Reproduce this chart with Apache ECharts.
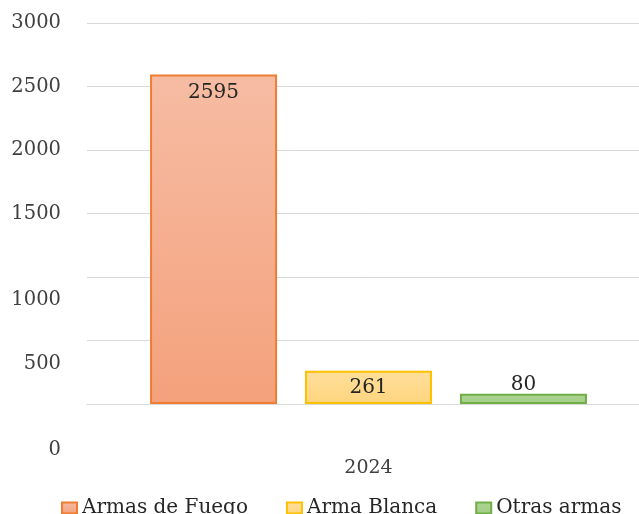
<!DOCTYPE html>
<html>
<head>
<meta charset="utf-8">
<script src="https://cdn.jsdelivr.net/npm/echarts@6/dist/echarts.min.js"></script>
<style>
html,body{margin:0;padding:0;background:#fff;}
#chart{width:639px;height:514px;}
</style>
</head>
<body>
<div id="chart"></div>
<script>
const categories = ['2024'];
const seriesNames = ['Armas de Fuego', 'Arma Blanca', 'Otras armas'];
const fuegoValues = [2595];
const blancaValues = [261];
const otrasValues = [80];
const yTicks = [0, 500, 1000, 1500, 2000, 2500, 3000];

const FONT = '"DejaVu Serif", "Liberation Serif", serif';
const chart = echarts.init(document.getElementById('chart'), null, {renderer: 'canvas'});

function grad(top, bottom) {
  return new echarts.graphic.LinearGradient(0, 0, 0, 1, [
    {offset: 0, color: top}, {offset: 1, color: bottom}
  ]);
}

const labelBase = {show: true, fontFamily: FONT, fontSize: 20, color: '#262626'};
const yMin = yTicks[0], yMax = yTicks[yTicks.length - 1], yStep = yTicks[1] - yTicks[0];

function yAxisDef(formatter, extra) {
  return Object.assign({
    type: 'value', position: 'left',
    min: yMin, max: yMax, interval: yStep,
    axisLine: {show: false},
    axisTick: {show: false},
    splitLine: {show: false},
    axisLabel: {
      fontFamily: FONT, fontSize: 19.5, color: '#404040', margin: 26, lineHeight: 23,
      formatter: formatter
    }
  }, extra || {});
}

chart.setOption({
  animation: false,
  backgroundColor: '#ffffff',
  grid: {left: 87, width: 563, top: 23, bottom: 110, outerBoundsMode: 'none'},
  legend: {
    bottom: -9,
    left: 56,
    itemWidth: 15,
    itemHeight: 11,
    itemGap: 38,
    icon: 'rect',
    textStyle: {fontFamily: FONT, fontSize: 20, color: '#262626'},
    data: seriesNames
  },
  xAxis: {
    type: 'category',
    data: categories,
    axisLine: {show: true, lineStyle: {color: '#d9d9d9', width: 1}},
    axisTick: {show: false},
    axisLabel: {fontFamily: FONT, fontSize: 19, color: '#404040', margin: 55}
  },
  yAxis: [
    yAxisDef(function (v) {
      if (v === 0) return '';
      if (v === 500 || v === 1000) return '\n\n' + v;
      return String(v);
    }, {splitLine: {show: true, lineStyle: {color: '#d9d9d9', width: 1}}}),
    yAxisDef(function (v) {
      return v === 0 ? '\n\n\n\n' + v : '';
    }, {axisLabel: {
      showMinLabel: true, fontFamily: FONT, fontSize: 19.5, color: '#404040', margin: 26, lineHeight: 23,
      formatter: function (v) { return v === 0 ? '\n\n\n\n' + v : ''; }
    }})
  ],
  series: [
    {
      name: seriesNames[0], type: 'bar', data: fuegoValues,
      barWidth: 127, barGap: '22%',
      itemStyle: {color: grad('#F6BCA3', '#F4A17C'), borderColor: '#ED7D31', borderWidth: 2},
      label: Object.assign({position: 'insideTop', distance: 8}, labelBase)
    },
    {
      name: seriesNames[1], type: 'bar', data: blancaValues,
      barWidth: 127, barGap: '22%',
      itemStyle: {color: grad('#FFDF9C', '#FFD57E'), borderColor: '#FFC000', borderWidth: 2},
      label: Object.assign({position: 'inside'}, labelBase)
    },
    {
      name: seriesNames[2], type: 'bar', data: otrasValues,
      barWidth: 127, barGap: '22%',
      itemStyle: {color: grad('#AED593', '#A3CD87'), borderColor: '#70AD47', borderWidth: 2},
      label: Object.assign({position: 'top', distance: -1}, labelBase)
    }
  ]
});
</script>
</body>
</html>
